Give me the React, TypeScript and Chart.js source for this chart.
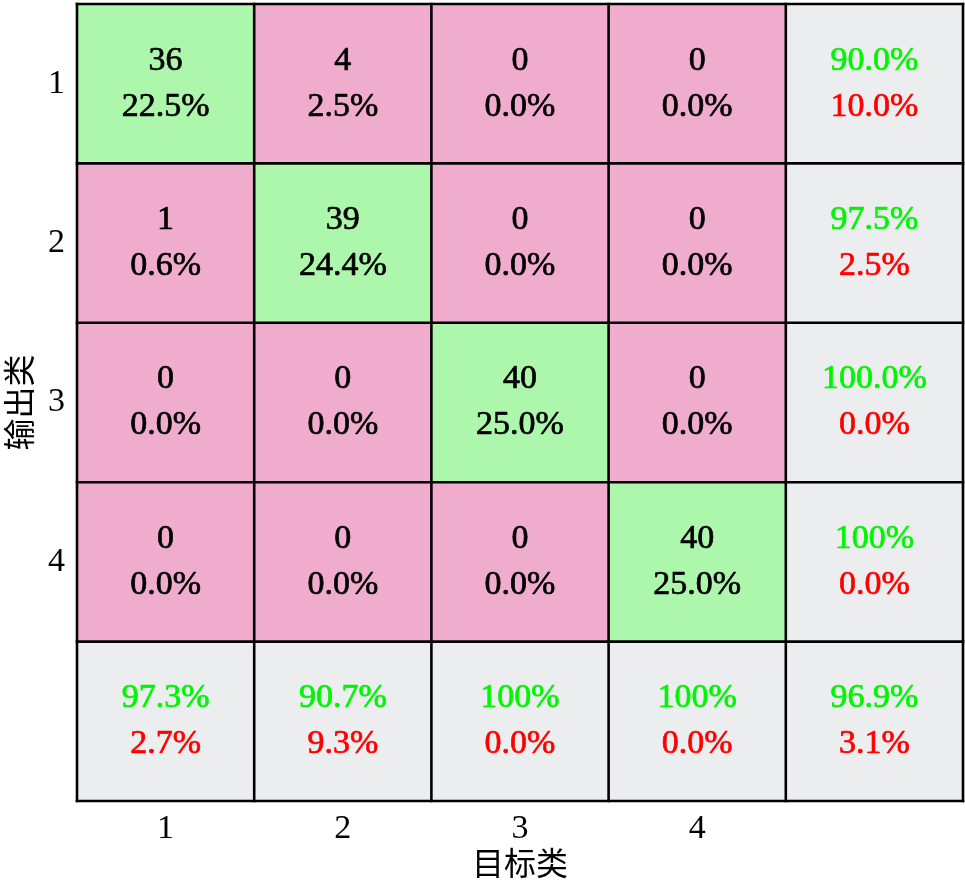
import React, { useEffect, useRef } from "react";
import { Chart, registerables } from "chart.js";

Chart.register(...registerables);

const xLabels = ["1", "2", "3", "4", ""];
const yLabels = ["1", "2", "3", "4", ""];
const xTitle = "目标类";
const yTitle = "输出类";

const counts = [
  [36, 4, 0, 0],
  [1, 39, 0, 0],
  [0, 0, 40, 0],
  [0, 0, 0, 40],
];
const cellPercents = [
  ["22.5%", "2.5%", "0.0%", "0.0%"],
  ["0.6%", "24.4%", "0.0%", "0.0%"],
  ["0.0%", "0.0%", "25.0%", "0.0%"],
  ["0.0%", "0.0%", "0.0%", "25.0%"],
];
const rowCorrect = ["90.0%", "97.5%", "100.0%", "100%"];
const rowWrong = ["10.0%", "2.5%", "0.0%", "0.0%"];
const colCorrect = ["97.3%", "90.7%", "100%", "100%"];
const colWrong = ["2.7%", "9.3%", "0.0%", "0.0%"];
const totalCorrect = "96.9%";
const totalWrong = "3.1%";

const GREEN = "rgb(173,247,173)";
const PINK = "rgb(240,172,204)";
const GRAY = "rgb(236,237,239)";
const TXT_GREEN = "rgb(0,245,0)";
const TXT_RED = "rgb(255,0,0)";
const FONT = "'Liberation Serif', 'Times New Roman', serif";
const CJK = "'Noto Sans CJK SC', sans-serif";

export default function App() {
  const ref = useRef<HTMLCanvasElement | null>(null);
  useEffect(() => {
    if (!ref.current) return;
    const n = 5;
    const datasets = [];
    for (let r = 0; r < n; r++) {
      const colors: string[] = [];
      const data: [number, number][] = [];
      for (let c = 0; c < n; c++) {
        data.push([r, r + 1]);
        if (r === 4 || c === 4) colors.push(GRAY);
        else colors.push(r === c ? GREEN : PINK);
      }
      datasets.push({
        data,
        backgroundColor: colors,
        borderWidth: 0,
        barPercentage: 1,
        categoryPercentage: 1,
        grouped: false,
      });
    }

    const cellText = {
      id: "cellText",
      afterDatasetsDraw(chart: any) {
        const ctx = chart.ctx;
        const xs = chart.scales.x;
        const ys = chart.scales.y;
        ctx.save();
        ctx.strokeStyle = "#000";
        ctx.lineWidth = 2.6;
        const half = (xs.getPixelForValue(1) - xs.getPixelForValue(0)) / 2;
        for (let i = 0; i <= n; i++) {
          const xp =
            i < n ? xs.getPixelForValue(i) - half : xs.getPixelForValue(n - 1) + half;
          ctx.beginPath();
          ctx.moveTo(xp, ys.getPixelForValue(0) - 1.3);
          ctx.lineTo(xp, ys.getPixelForValue(n) + 1.3);
          ctx.stroke();
          const yp = ys.getPixelForValue(i);
          ctx.beginPath();
          ctx.moveTo(xs.getPixelForValue(0) - half - 1.3, yp);
          ctx.lineTo(xs.getPixelForValue(n - 1) + half + 1.3, yp);
          ctx.stroke();
        }
        ctx.font = `34px ${FONT}`;
        ctx.textAlign = "center";
        ctx.textBaseline = "middle";
        ctx.lineWidth = 0.7;
        ctx.lineJoin = "round";
        const txt = (s: string, x: number, y: number, col: string) => {
          ctx.fillStyle = col;
          ctx.strokeStyle = col;
          ctx.fillText(s, x, y);
          ctx.strokeText(s, x, y);
        };
        const put = (c: number, r: number, a: string, b: string, ca: string, cb: string) => {
          const cx = xs.getPixelForValue(c);
          const cy = ys.getPixelForValue(r + 0.5);
          txt(a, cx, cy - 23, ca);
          txt(b, cx, cy + 23, cb);
        };
        for (let r = 0; r < 4; r++) {
          for (let c = 0; c < 4; c++) {
            put(c, r, String(counts[r][c]), cellPercents[r][c], "#000", "#000");
          }
          put(4, r, rowCorrect[r], rowWrong[r], TXT_GREEN, TXT_RED);
        }
        for (let c = 0; c < 4; c++) put(c, 4, colCorrect[c], colWrong[c], TXT_GREEN, TXT_RED);
        put(4, 4, totalCorrect, totalWrong, TXT_GREEN, TXT_RED);
        ctx.restore();
      },
    };

    const chart = new Chart(ref.current, {
      type: "bar",
      data: { labels: xLabels, datasets: datasets as any },
      plugins: [cellText],
      options: {
        responsive: false,
        animation: false,
        devicePixelRatio: 1,
        layout: { padding: { top: 4, right: 2, left: 0, bottom: 0 } },
        plugins: { legend: { display: false }, tooltip: { enabled: false } },
        scales: {
          x: {
            type: "category",
            grid: { display: false },
            border: { display: false },
            ticks: { color: "#000", font: { family: FONT, size: 34 }, padding: 0 },
            title: {
              display: true,
              text: xTitle,
              color: "#000",
              font: { family: CJK, size: 32 },
              padding: { top: 0, bottom: 1 },
            },
            afterFit: (s: any) => {
              s.height = 82;
              s.paddingLeft = 0;
              s.paddingRight = 0;
            },
          },
          y: {
            type: "linear",
            min: 0,
            max: 5,
            reverse: true,
            grid: { display: false },
            border: { display: false },
            afterBuildTicks: (s: any) => {
              s.ticks = [0.5, 1.5, 2.5, 3.5, 4.5].map((v) => ({ value: v }));
            },
            ticks: {
              color: "#000",
              font: { family: FONT, size: 34 },
              padding: 4,
              callback: (v: any) => yLabels[Math.floor(Number(v))] ?? "",
            },
            title: {
              display: true,
              text: yTitle,
              color: "#000",
              font: { family: CJK, size: 32 },
              padding: { top: 0, bottom: 0 },
            },
            afterFit: (s: any) => {
              s.width = 77;
              s.paddingTop = 0;
              s.paddingBottom = 0;
            },
          },
        },
      },
    });
    return () => chart.destroy();
  }, []);
  return (
    <div style={{ position: "absolute", left: 0, top: 0, width: 965, height: 883, background: "#fff" }}>
      <canvas ref={ref} width={965} height={883} />
    </div>
  );
}
